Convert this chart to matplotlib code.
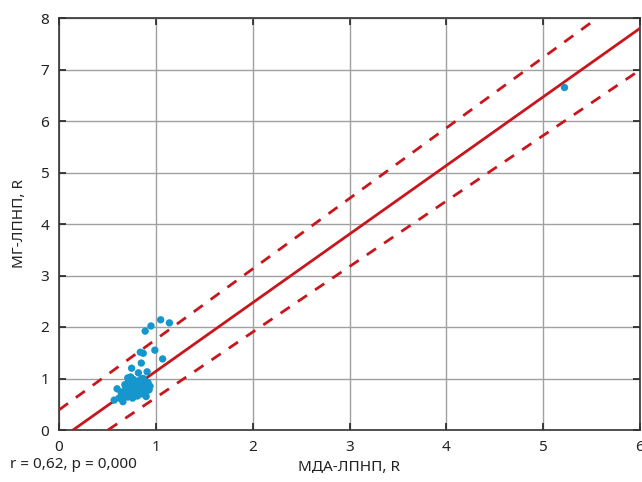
import matplotlib.pyplot as plt
import numpy as np

plt.rcParams['font.family'] = ['Noto Sans', 'DejaVu Sans']

# MDA-LDL vs MG-LDL values
mda = [1.05, 1.14, 0.95, 0.89, 0.84, 0.87, 0.99, 1.07, 0.85, 0.75,
       0.82, 0.91, 0.71, 0.60, 0.57, 0.62, 0.65, 0.68, 0.70, 0.72,
       0.74, 0.76, 0.78, 0.80, 0.82, 0.84, 0.86, 0.88, 0.90, 0.92,
       0.94, 0.66, 0.69, 0.73, 0.77, 0.81, 0.85, 0.89, 0.93, 0.71,
       0.75, 0.79, 0.83, 0.87, 0.64, 0.68, 0.72, 0.76, 0.80, 0.84,
       0.70, 0.78, 0.86, 0.74, 0.90, 5.22]
mg = [2.14, 2.08, 2.02, 1.92, 1.51, 1.49, 1.55, 1.38, 1.30, 1.20,
      1.11, 1.13, 1.01, 0.80, 0.58, 0.62, 0.70, 0.66, 0.75, 0.68,
      0.85, 0.72, 0.90, 0.78, 0.95, 0.70, 0.88, 0.80, 0.74, 0.92,
      0.85, 0.55, 0.82, 0.90, 0.98, 0.66, 0.99, 0.68, 0.78, 0.64,
      0.76, 0.86, 0.92, 1.00, 0.74, 0.88, 0.96, 0.62, 0.70, 0.80,
      0.84, 0.94, 0.74, 1.03, 0.65, 6.65]

fit_x = [0.145, 6.0]
fit_y = [0.0, 7.80]
upper_x = [0.0, 5.56]
upper_y = [0.39, 8.0]
lower_x = [0.506, 6.0]
lower_y = [0.0, 6.99]

fig = plt.figure(figsize=(6.42, 4.82), dpi=100)
ax = fig.add_axes([59/642, 52/482, 581/642, 412/482])

red = '#c8161d'
ax.plot(fit_x, fit_y, color=red, lw=2, zorder=3)
ax.plot(upper_x, upper_y, color=red, lw=2, ls=(0, (4, 3.5)), zorder=3)
ax.plot(lower_x, lower_y, color=red, lw=2, ls=(0, (4, 3.5)), zorder=3)
ax.scatter(mda, mg, s=28, color='#1596cc', edgecolors='none', zorder=4)

ax.set_xlim(0, 6)
ax.set_ylim(0, 8)
ax.set_xticks(np.arange(0, 7, 1))
ax.set_yticks(np.arange(0, 9, 1))
ax.grid(True, color='#a0a0a0', lw=1)
ax.set_axisbelow(True)
ax.tick_params(direction='in', length=5, width=1.2, top=True, right=True,
               labelsize=11, colors='#222222', pad=7)
for s in ax.spines.values():
    s.set_color('#333333')
    s.set_linewidth(1.2)

ax.set_xlabel('МДА-ЛПНП, R', fontsize=11, color='#222222', labelpad=4)
ax.set_ylabel('МГ-ЛПНП, R', fontsize=11, color='#222222', labelpad=10)
fig.text(10/642, 1 - 465/482, 'r = 0,62, p = 0,000', fontsize=11,
         color='#222222', va='center')

fig.savefig('out.png', dpi=100)
